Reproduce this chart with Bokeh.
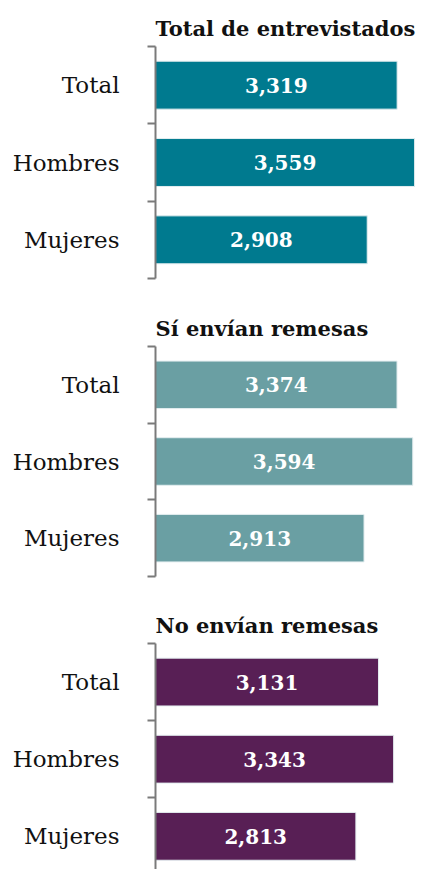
from bokeh.plotting import figure
from bokeh.layouts import column
from bokeh.models import Range1d, FixedTicker, ColumnDataSource
from bokeh.core.properties import value
from bokeh.embed import file_html
from bokeh.resources import INLINE

categories = ["Total", "Hombres", "Mujeres"]
titles = ["Total de entrevistados", "Sí envían remesas", "No envían remesas"]
total_values = [3319, 3559, 2908]
si_values = [3374, 3594, 2913]
no_values = [3131, 3343, 2813]
colors = ["#007A8F", "#6A9FA3", "#581F55"]

SERIF = "DejaVu Serif"


def make_panel(title, vals, color, left, top, bottom, height, x_end, y_start):
    n = len(categories)
    ys = [n - i - 0.5 for i in range(n)]
    src = ColumnDataSource(dict(
        y=ys, v=vals, mid=[v / 2 for v in vals],
        lab=[f"{v:,}" for v in vals], cat=categories))
    p = figure(width=416, height=height, output_backend="svg", toolbar_location=None,
               x_range=Range1d(0, x_end), y_range=Range1d(y_start, n),
               x_axis_location=None, min_border_left=left, min_border_right=0,
               min_border_top=top, min_border_bottom=bottom)
    p.title.text = title
    p.title.text_font = SERIF
    p.title.text_font_style = "bold"
    p.title.text_font_size = "21px"
    p.title.align = "left"
    p.title.text_color = "#111111"
    p.title.standoff = 11
    p.hbar(y="y", right="v", left=0, height=0.62, source=src, fill_color=color,
           line_color="#e4eef0", line_width=1)
    p.text(x="mid", y="y", text="lab", source=src, text_align="center",
           text_baseline="middle", text_color="white",
           text_font=value(SERIF), text_font_style="bold", text_font_size="20px")
    ax = p.yaxis[0]
    ax.ticker = FixedTicker(ticks=ys, minor_ticks=list(range(n + 1)))
    ax.major_label_overrides = {y: c for y, c in zip(ys, categories)}
    ax.major_tick_line_color = None
    ax.major_tick_out = 0
    ax.major_tick_in = 0
    ax.minor_tick_out = 8
    ax.minor_tick_in = 0
    ax.minor_tick_line_width = 2
    ax.minor_tick_line_color = "#7a7a7a"
    ax.axis_line_width = 2
    ax.axis_line_color = "#7a7a7a"
    ax.major_label_text_font = SERIF
    ax.major_label_text_font_size = "23px"
    ax.major_label_text_color = "#111111"
    ax.major_label_standoff = 28
    p.grid.visible = False
    p.outline_line_color = None
    p.background_fill_color = "white"
    p.border_fill_color = "white"
    return p


p1 = make_panel(titles[0], total_values, colors[0], 155, 46, 22, 300, 3585, 0)
p2 = make_panel(titles[1], si_values, colors[1], 152, 46, 21, 297, 3646, 0)
p3 = make_panel(titles[2], no_values, colors[2], 150, 46, 0, 272, 3664, 0.07)

layout = column(p1, p2, p3, spacing=0)
open("out.html", "w").write(file_html(layout, INLINE))
